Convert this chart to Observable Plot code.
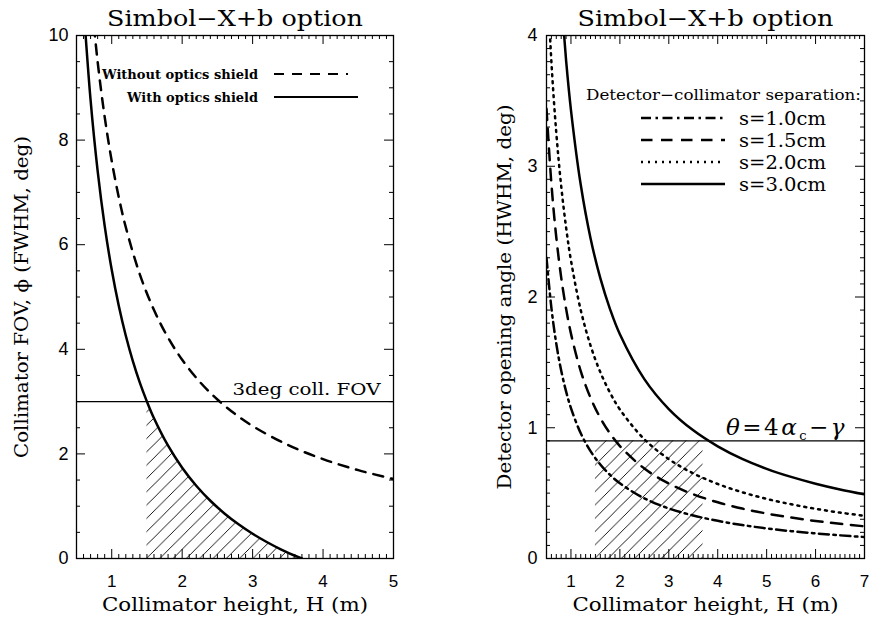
<!DOCTYPE html>
<html><head><meta charset="utf-8">
<script src="https://cdn.jsdelivr.net/npm/d3@7"></script>
<script src="https://cdn.jsdelivr.net/npm/@observablehq/plot@0.6"></script>
<style>
html,body{margin:0;padding:0;background:#fff;}
#wrap{display:flex;width:869px;height:619px;overflow:hidden;}
#wrap svg{display:block;}
</style></head><body><div id="wrap"></div>
<script>
// ---------------- Left panel data ----------------
const heightWithShield = [0.6,0.7,0.8,0.9,1.0,1.1,1.2,1.3,1.4,1.5,1.6,1.8,2.0,2.2,2.4,2.6,2.8,3.0,3.2,3.4,3.6,3.7];
const fovWithShield    = [10.567,8.764,7.413,6.361,5.520,4.832,4.258,3.773,3.357,3.000,2.681,2.156,1.735,1.391,1.104,0.862,0.654,0.473,0.316,0.176,0.053,0.000];
const heightWithoutShield = [0.7,0.8,0.9,1.0,1.1,1.2,1.4,1.6,1.8,2.0,2.25,2.5,2.75,3.0,3.5,4.0,4.5,5.0];
const fovWithoutShield    = [10.857,9.500,8.444,7.600,6.909,6.333,5.429,4.750,4.222,3.800,3.378,3.040,2.764,2.533,2.171,1.900,1.689,1.520];
const fovLimit = 3;
const hatchStartH = 1.5;
const leftXTicks = [1,2,3,4,5];
const leftYTicks = [0,2,4,6,8,10];
const leftLegendLabels = ["Without optics shield","With optics shield"];

// ---------------- Right panel data ----------------
const heightGrid = [0.5,0.6,0.7,0.8,0.9,1.0,1.2,1.4,1.6,1.8,2.0,2.5,3.0,3.5,4.0,4.5,5.0,5.5,6.0,6.5,7.0];
const angleS10 = [2.300,1.917,1.643,1.438,1.278,1.150,0.958,0.821,0.719,0.639,0.575,0.460,0.383,0.329,0.288,0.256,0.230,0.209,0.192,0.177,0.164];
const angleS15 = [3.440,2.867,2.457,2.150,1.911,1.720,1.433,1.229,1.075,0.956,0.860,0.688,0.573,0.491,0.430,0.382,0.344,0.313,0.287,0.265,0.246];
const angleS20 = [4.560,3.800,3.257,2.850,2.533,2.280,1.900,1.629,1.425,1.267,1.140,0.912,0.760,0.651,0.570,0.507,0.456,0.415,0.380,0.351,0.326];
const angleS30 = [6.860,5.717,4.900,4.288,3.811,3.430,2.858,2.450,2.144,1.906,1.715,1.372,1.143,0.980,0.858,0.762,0.686,0.624,0.572,0.528,0.490];
const separationLabels = ["s=1.0cm","s=1.5cm","s=2.0cm","s=3.0cm"];
const thetaLimit = 0.9;
const hatchRangeH = [1.5, 3.7];
const rightXTicks = [1,2,3,4,5,6,7];
const rightYTicks = [0,1,2,3,4];

const titleText = "Simbol\u2212X+b option";
const xLabelText = "Collimator height, H (m)";
const yLabelLeft = "Collimator FOV, \u03D5 (FWHM, deg)";
const yLabelRight = "Detector opening angle (HWHM, deg)";
const fovLabel = "3deg coll. FOV";
const legendTitle = "Detector\u2212collimator separation:";

// ---------------- styling ----------------
const SERIF = "DejaVu Serif";
const SANS = "Liberation Sans";
const H = 619;
const dashes = ["10,4.5,2.5,4.5", "11.5,8.5", "2,5", null];
const textLengths = {
  [titleText]: 256, [xLabelText]: 266, [yLabelLeft]: 322, [yLabelRight]: 385, [fovLabel]: 148
};

function ticksFrame(xMajor, xMinor, yMajor, yMinor, pw, ph) {
  const s = {stroke: "black", strokeWidth: 1};
  return [
    Plot.tickX(xMajor, {x: d => d, insetTop: ph - 9, ...s}),
    Plot.tickX(xMajor, {x: d => d, insetBottom: ph - 9, ...s}),
    Plot.tickX(xMinor, {x: d => d, insetTop: ph - 4, ...s}),
    Plot.tickX(xMinor, {x: d => d, insetBottom: ph - 4, ...s}),
    Plot.tickY(yMajor, {y: d => d, insetRight: pw - 9, ...s}),
    Plot.tickY(yMajor, {y: d => d, insetLeft: pw - 9, ...s}),
    Plot.tickY(yMinor, {y: d => d, insetRight: pw - 4, ...s}),
    Plot.tickY(yMinor, {y: d => d, insetLeft: pw - 4, ...s}),
    Plot.frame({stroke: "black", strokeWidth: 1.3})
  ];
}

function hatchDefs(id) {
  return () => {
    const g = d3.create("svg:g");
    const s = 13.3;
    const p = g.append("defs").append("pattern").attr("id", id)
      .attr("patternUnits", "userSpaceOnUse").attr("width", s).attr("height", s);
    p.append("path").attr("d", `M-2,2 L2,-2 M0,${s} L${s},0 M${s-2},${s+2} L${s+2},${s-2}`)
      .attr("stroke", "black").attr("stroke-width", 0.9).attr("fill", "none");
    return g.node();
  };
}

function applyTextLengths(svg) {
  d3.select(svg).selectAll("text").each(function() {
    const t = this.textContent;
    if (textLengths[t]) {
      this.setAttribute("textLength", textLengths[t]);
      this.setAttribute("lengthAdjust", "spacingAndGlyphs");
    }
  });
}

const commonText = (extra) => ({fontFamily: SERIF, fill: "black", textAnchor: "middle", lineAnchor: "middle", ...extra});
const fmt = d => String(d);

// ---------------- Left panel ----------------
const withRows = heightWithShield.map((h, i) => ({H: h, v: fovWithShield[i]}));
const withoutRows = heightWithoutShield.map((h, i) => ({H: h, v: fovWithoutShield[i]}));
const hatchRowsL = withRows.filter(d => d.H >= hatchStartH).map(d => ({H: d.H, v: Math.min(d.v, fovLimit)}));

const LW = 435, LM = {left: 76, right: 42, top: 35, bottom: 61};
const lpw = LW - LM.left - LM.right, lph = H - LM.top - LM.bottom;

function leftLegend(index, scales, values, dims) {
  const fx = dims.marginLeft, fy = dims.marginTop;
  const g = d3.create("svg:g").attr("font-family", SERIF).attr("font-weight", "bold").attr("font-size", 13).attr("fill", "black");
  const rows = [{y: fy + 39, dash: "10,8", len: 74, w: 156}, {y: fy + 62, dash: null, len: 84, w: 131}];
  leftLegendLabels.forEach((lab, i) => {
    const r = rows[i];
    g.append("text").attr("x", fx + 182).attr("y", r.y + 5).attr("text-anchor", "end")
      .attr("textLength", r.w).attr("lengthAdjust", "spacingAndGlyphs").text(lab);
    g.append("line").attr("x1", fx + 198).attr("x2", fx + 198 + r.len).attr("y1", r.y).attr("y2", r.y)
      .attr("stroke", "black").attr("stroke-width", 2).attr("stroke-dasharray", r.dash);
  });
  return g.node();
}

const left = Plot.plot({
  width: LW, height: H,
  marginLeft: LM.left, marginRight: LM.right, marginTop: LM.top, marginBottom: LM.bottom,
  style: {fontFamily: SANS, fontSize: "18px", background: "white", color: "black", overflow: "visible"},
  x: {domain: [0.5, 5]},
  y: {domain: [0, 10]},
  marks: [
    hatchDefs("hatchL"),
    Plot.areaY(hatchRowsL, {x: "H", y1: () => 0, y2: "v", curve: "catmull-rom", fill: "url(#hatchL)"}),
    Plot.line(withoutRows, {x: "H", y: "v", curve: "catmull-rom", stroke: "black", strokeWidth: 2.5, strokeDasharray: "10,8", clip: true}),
    Plot.line(withRows, {x: "H", y: "v", curve: "catmull-rom", stroke: "black", strokeWidth: 2.5, clip: true}),
    Plot.ruleY([fovLimit], {stroke: "black", strokeWidth: 1.2}),
    Plot.text([fovLabel], {text: d => d, y: () => fovLimit, frameAnchor: "right", ...commonText({fontSize: 17, textAnchor: "end"}), dx: -13, dy: -12}),
    ...ticksFrame(leftXTicks, d3.range(5, 51).map(i => i / 10).filter(v => v % 1 !== 0),
                  leftYTicks, d3.range(0, 21).map(i => i / 2).filter(v => v % 2 !== 0), lpw, lph),
    Plot.axisX(leftXTicks, {anchor: "bottom", tickSize: 0, tickPadding: 16, tickFormat: fmt, label: null, fontSize: 17}),
    Plot.axisY(leftYTicks, {anchor: "left", tickSize: 0, tickPadding: 8, tickFormat: fmt, label: null, fontSize: 18}),
    Plot.text([titleText], {text: d => d, frameAnchor: "top", ...commonText({fontSize: 22}), dy: -17}),
    Plot.text([xLabelText], {text: d => d, frameAnchor: "bottom", ...commonText({fontSize: 18}), dy: 47}),
    Plot.text([yLabelLeft], {text: d => d, frameAnchor: "left", ...commonText({fontSize: 18}), dx: -54, rotate: -90}),
    leftLegend
  ]
});
applyTextLengths(left);

// ---------------- Right panel ----------------
const RW = 434, RM = {left: 111, right: 5, top: 35, bottom: 61};
const rpw = RW - RM.left - RM.right, rph = H - RM.top - RM.bottom;
const rightSeries = [angleS10, angleS15, angleS20, angleS30].map((vals, i) =>
  heightGrid.map((h, j) => ({H: h, v: vals[j], s: separationLabels[i]})));

function rightLegend(index, scales, values, dims) {
  const fx = dims.marginLeft, fy = dims.marginTop;
  const g = d3.create("svg:g").attr("font-family", SERIF).attr("fill", "black").attr("text-anchor", "start");
  g.append("text").attr("x", fx + 40).attr("y", fy + 65).attr("font-size", 15)
    .attr("textLength", 275).attr("lengthAdjust", "spacingAndGlyphs").text(legendTitle);
  separationLabels.forEach((lab, i) => {
    const y = fy + 83 + i * 22;
    g.append("line").attr("x1", fx + 95).attr("x2", fx + 179).attr("y1", y).attr("y2", y)
      .attr("stroke", "black").attr("stroke-width", 2.5).attr("stroke-dasharray", dashes[i]);
    g.append("text").attr("x", fx + 193).attr("y", y + 6.5).attr("font-size", 19)
      .attr("textLength", 87).attr("lengthAdjust", "spacingAndGlyphs").text(lab);
  });
  return g.node();
}

function thetaLabel(index, scales, values, dims) {
  const y = scales.y(thetaLimit);
  const xr = dims.width - dims.marginRight - 17;
  const t = d3.create("svg:text").attr("x", xr).attr("y", y - 5).attr("text-anchor", "end")
    .attr("font-family", SERIF).attr("font-size", 23).attr("letter-spacing", 2.5).attr("fill", "black");
  t.append("tspan").attr("font-style", "italic").text("\u03B8");
  t.append("tspan").text("=4");
  t.append("tspan").attr("font-style", "italic").text("\u03B1");
  t.append("tspan").attr("font-size", 13).attr("dy", 5).text("c");
  t.append("tspan").attr("dy", -5).text("\u2212");
  t.append("tspan").attr("font-style", "italic").text("\u03B3");
  return t.node();
}

const right = Plot.plot({
  width: RW, height: H,
  marginLeft: RM.left, marginRight: RM.right, marginTop: RM.top, marginBottom: RM.bottom,
  style: {fontFamily: SANS, fontSize: "18px", background: "white", color: "black", overflow: "visible"},
  x: {domain: [0.5, 7]},
  y: {domain: [0, 4]},
  marks: [
    hatchDefs("hatchR"),
    Plot.rect([hatchRangeH], {x1: d => d[0], x2: d => d[1], y1: () => 0, y2: () => thetaLimit, fill: "url(#hatchR)"}),
    ...rightSeries.map((rows, i) => Plot.line(rows, {x: "H", y: "v", curve: "catmull-rom", stroke: "black", strokeWidth: 2.5, strokeDasharray: dashes[i], clip: true})),
    Plot.ruleY([thetaLimit], {stroke: "black", strokeWidth: 1.2}),
    thetaLabel,
    ...ticksFrame(rightXTicks, d3.range(5, 71).map(i => i / 10).filter(v => v % 1 !== 0),
                  rightYTicks, d3.range(0, 41).map(i => i / 10).filter(v => v % 1 !== 0), rpw, rph),
    Plot.axisX(rightXTicks, {anchor: "bottom", tickSize: 0, tickPadding: 16, tickFormat: fmt, label: null, fontSize: 17}),
    Plot.axisY(rightYTicks, {anchor: "left", tickSize: 0, tickPadding: 9, tickFormat: fmt, label: null, fontSize: 18}),
    Plot.text([titleText], {text: d => d, frameAnchor: "top", ...commonText({fontSize: 22}), dy: -17}),
    Plot.text([xLabelText], {text: d => d, frameAnchor: "bottom", ...commonText({fontSize: 18}), dy: 47}),
    Plot.text([yLabelRight], {text: d => d, frameAnchor: "left", ...commonText({fontSize: 18}), dx: -41, rotate: -90}),
    rightLegend
  ]
});
applyTextLengths(right);

document.getElementById("wrap").append(left, right);
</script>
</body></html>
